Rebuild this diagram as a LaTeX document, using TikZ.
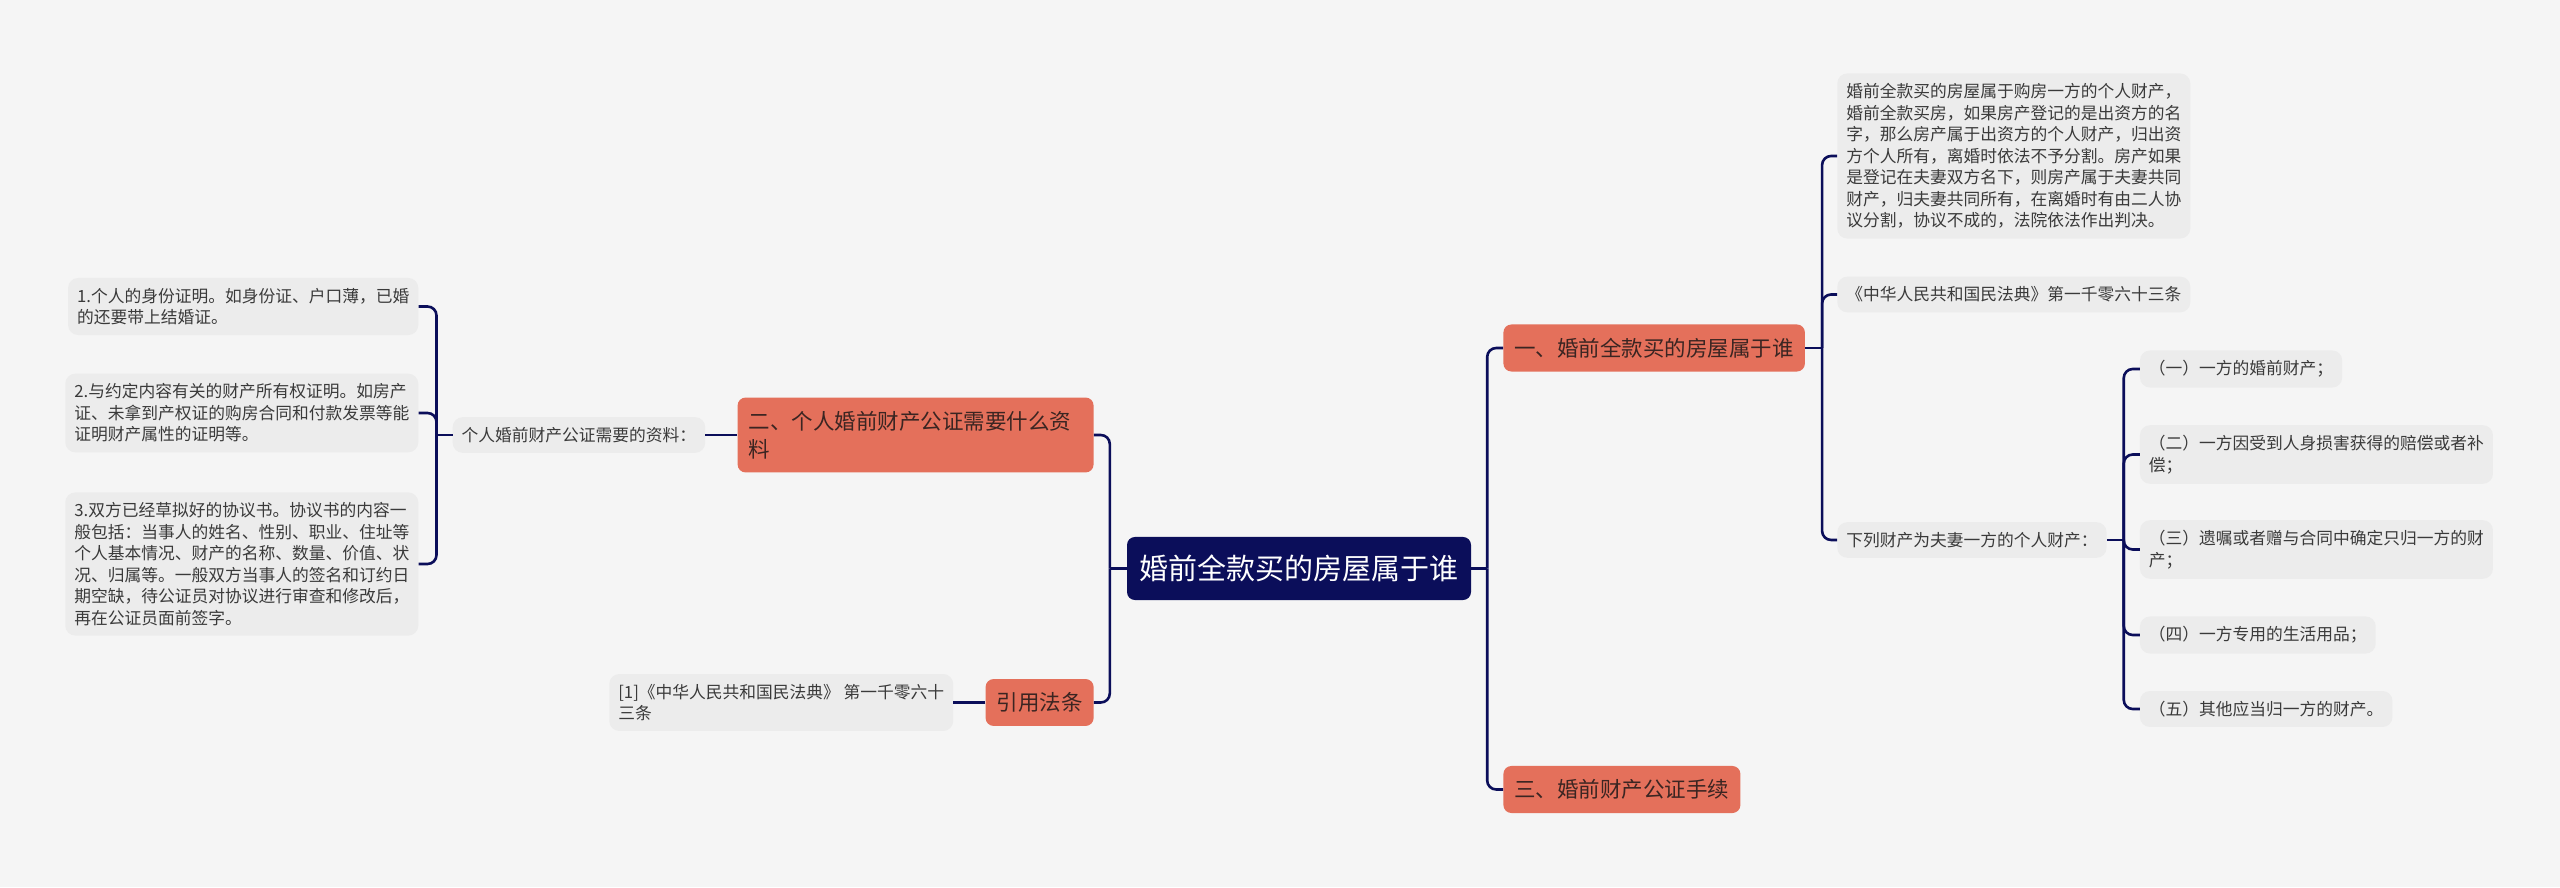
\documentclass[tikz,border=0pt]{standalone}
\usepackage{fontspec}
\setmainfont{Noto Sans CJK SC}
\usepackage{xcolor}
\usetikzlibrary{positioning}
\definecolor{paper}{HTML}{F5F5F5}
\definecolor{navy}{HTML}{0B0E5A}
\definecolor{coral}{HTML}{E4705B}
\definecolor{leafgray}{HTML}{ECECEC}
\definecolor{inkdark}{HTML}{3A3A3A}
\definecolor{coralink}{HTML}{3B2522}

\begin{document}
\begin{tikzpicture}[
  x=1pt, y=1pt,
  rootbox/.style={fill=navy, rounded corners=8pt, text=white, font=\fontsize{29}{34}\selectfont, inner xsep=12.5pt, inner ysep=18pt},
  topic/.style={fill=coral, rounded corners=8pt, text=coralink, align=left, font=\fontsize{21.5}{28}\selectfont, inner xsep=11pt, inner ysep=13.5pt},
  leaf/.style={fill=leafgray, rounded corners=10pt, text=inkdark, align=left, font=\fontsize{16.75}{21.5}\selectfont, inner xsep=9pt, inner ysep=10pt},
  link/.style={draw=navy, line width=2.6pt, rounded corners=9pt}
]
\useasboundingbox (0,0) rectangle (2560,887);
\fill[paper] (0,0) rectangle (2560,887);

\node[rootbox] (root) at (1299,318.5) {婚前全款买的房屋属于谁};

\node[topic, right=32pt of root, yshift=220.5pt] (buyer) {一、婚前全款买的房屋属于谁};
\node[topic, right=32pt of root, yshift=-221pt] (procedure) {三、婚前财产公证手续};
\node[topic, text width=334pt, left=33pt of root, yshift=133.5pt] (papers) {二、个人婚前财产公证需要什么资\\料};
\node[topic, left=33pt of root, yshift=-134pt] (statute) {引用法条};

\node[leaf, left=32pt of papers] (needed) {个人婚前财产公证需要的资料：};
\node[leaf, left=34pt of needed, yshift=128.5pt] (idcard) {1.个人的身份证明。如身份证、户口薄，已婚\\的还要带上结婚证。};
\node[leaf, left=34pt of needed, yshift=22pt] (deeds) {2.与约定内容有关的财产所有权证明。如房产\\证、未拿到产权证的购房合同和付款发票等能\\证明财产属性的证明等。};
\node[leaf, left=34pt of needed, yshift=-129pt] (agreement) {3.双方已经草拟好的协议书。协议书的内容一\\般包括：当事人的姓名、性别、职业、住址等\\个人基本情况、财产的名称、数量、价值、状\\况、归属等。一般双方当事人的签名和订约日\\期空缺，待公证员对协议进行审查和修改后，\\再在公证员面前签字。};
\node[leaf, left=32pt of statute] (citation) {[1]《中华人民共和国民法典》 第一千零六十\\三条};

\node[leaf, right=32pt of buyer, yshift=192pt] (ownership) {婚前全款买的房屋属于购房一方的个人财产，\\婚前全款买房，如果房产登记的是出资方的名\\字，那么房产属于出资方的个人财产，归出资\\方个人所有，离婚时依法不予分割。房产如果\\是登记在夫妻双方名下，则房产属于夫妻共同\\财产，归夫妻共同所有，在离婚时有由二人协\\议分割，协议不成的，法院依法作出判决。};
\node[leaf, right=32pt of buyer, yshift=53.5pt] (codeart) {《中华人民共和国民法典》第一千零六十三条};
\node[leaf, right=32pt of buyer, yshift=-192pt] (personal) {下列财产为夫妻一方的个人财产：};

\node[leaf, right=33pt of personal, yshift=171pt] (premarital) {（一）一方的婚前财产；};
\node[leaf, right=33pt of personal, yshift=85.5pt] (injury) {（二）一方因受到人身损害获得的赔偿或者补\\偿；};
\node[leaf, right=33pt of personal, yshift=-9.5pt] (bequest) {（三）遗嘱或者赠与合同中确定只归一方的财\\产；};
\node[leaf, right=33pt of personal, yshift=-95pt] (daily) {（四）一方专用的生活用品；};
\node[leaf, right=33pt of personal, yshift=-169pt] (others) {（五）其他应当归一方的财产。};

\coordinate[right=16pt of root.east] (rjoin);
\coordinate[left=17pt of root.west] (ljoin);
\coordinate[left=16pt of needed.west] (njoin);
\coordinate[right=17pt of buyer.east] (bjoin);
\coordinate[right=17pt of personal.east] (pjoin);

\draw[link] (root.east) -- (rjoin);
\draw[link] (rjoin) |- (buyer.west);
\draw[link] (rjoin) |- (procedure.west);
\draw[link] (root.west) -- (ljoin);
\draw[link] (ljoin) |- (papers.east);
\draw[link] (ljoin) |- (statute.east);

\draw[link] (papers.west) -- (needed.east);
\draw[link] (needed.west) -- (njoin);
\draw[link] (njoin) |- (idcard.east);
\draw[link] (njoin) |- (deeds.east);
\draw[link] (njoin) |- (agreement.east);
\draw[link] (statute.west) -- (citation.east);

\draw[link] (buyer.east) -- (bjoin);
\draw[link] (bjoin) |- (ownership.west);
\draw[link] (bjoin) |- (codeart.west);
\draw[link] (bjoin) |- (personal.west);
\draw[link] (personal.east) -- (pjoin);
\draw[link] (pjoin) |- (premarital.west);
\draw[link] (pjoin) |- (injury.west);
\draw[link] (pjoin) |- (bequest.west);
\draw[link] (pjoin) |- (daily.west);
\draw[link] (pjoin) |- (others.west);
\end{tikzpicture}
\end{document}
